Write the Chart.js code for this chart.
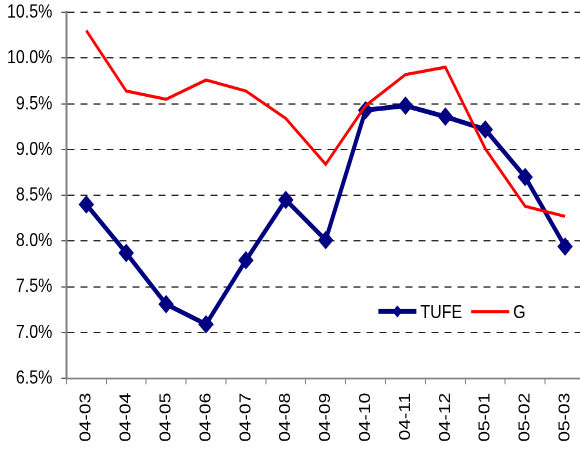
<!DOCTYPE html>
<html>
<head>
<meta charset="utf-8">
<script src="https://cdn.jsdelivr.net/npm/chart.js@4/dist/chart.umd.min.js"></script>
<style>
  html, body { margin: 0; padding: 0; background: #fff; overflow: hidden; width: 580px; height: 455px; }
  #wrap { position: absolute; left: 0; top: -10px; transform: scale(1, 1.2); transform-origin: 0 0; }
</style>
</head>
<body>
<div id="wrap"><canvas id="myChart" width="593" height="387"></canvas></div>
<script>
const months = ["04-03", "04-04", "04-05", "04-06", "04-07", "04-08", "04-09",
  "04-10", "04-11", "04-12", "05-01", "05-02", "05-03"];
const tufe = [8.40, 7.87, 7.31, 7.09, 7.79, 8.45, 8.01, 9.43, 9.48, 9.36, 9.22, 8.70, 7.94];
const g = [10.30, 9.64, 9.55, 9.76, 9.64, 9.34, 8.84, 9.48, 9.82, 9.90, 9.01, 8.38, 8.27];
const yMin = 6.5;
const yMax = 10.5;
const yStep = 0.5;

const font = { family: "'Liberation Sans', Arial, sans-serif", size: 16 };

// legend drawn inside the plot, like the original
const insideLegend = {
  id: "insideLegend",
  afterDraw(chart) {
    const c = chart.ctx;
    const y = chart.scales.y.getPixelForValue(7.23);
    let x = chart.chartArea.left + 312;
    c.save();
    c.font = "16px 'Liberation Sans', Arial, sans-serif";
    c.textBaseline = "middle";
    chart.data.datasets.forEach((ds) => {
      c.strokeStyle = ds.borderColor;
      c.lineWidth = ds.borderWidth;
      c.beginPath();
      c.moveTo(x, y);
      c.lineTo(x + 38, y);
      c.stroke();
      if (ds.pointRadius > 0) {
        const r = 5;
        c.fillStyle = ds.borderColor;
        c.beginPath();
        c.moveTo(x + 19 - r, y);
        c.lineTo(x + 19, y - r);
        c.lineTo(x + 19 + r, y);
        c.lineTo(x + 19, y + r);
        c.closePath();
        c.fill();
      }
      c.fillStyle = "#000";
      c.fillText(ds.label, x + 42, y + 1);
      x += 42 + c.measureText(ds.label).width + 9;
    });
    c.restore();
  },
};

const ctx = document.getElementById("myChart");
let chart = new Chart(ctx, {
  type: "line",
  data: {
    labels: months,
    datasets: [
      {
        label: "TUFE",
        data: tufe,
        borderColor: "#000080",
        backgroundColor: "#000080",
        borderWidth: 4,
        pointStyle: "rectRot",
        pointRadius: 7,
        pointBorderWidth: 1,
        tension: 0,
        order: 1,
      },
      {
        label: "G",
        data: g,
        borderColor: "#ff0000",
        backgroundColor: "#ff0000",
        borderWidth: 2.6,
        pointRadius: 0,
        tension: 0,
        order: 0,
      },
    ],
  },
  options: {
    responsive: false,
    animation: false,
    devicePixelRatio: 2,
    layout: { padding: { left: -2, top: 0, right: 0, bottom: 3.5 } },
    plugins: {
      legend: { display: false },
      tooltip: { enabled: false },
    },
    scales: {
      x: {
        offset: true,
        grid: {
          offset: true,
          drawOnChartArea: false,
          drawTicks: true,
          tickLength: 5,
          color: "#808080",
        },
        border: { color: "#808080", width: 1.5 },
        ticks: {
          minRotation: 90,
          maxRotation: 90,
          padding: 7,
          color: "#000",
          font: font,
        },
      },
      y: {
        min: yMin,
        max: yMax,
        grid: {
          color: "#222",
          tickColor: "#555",
          tickLength: 5,
          lineWidth: 1,
        },
        border: { color: "#808080", width: 2, dash: [7, 6] },
        ticks: {
          stepSize: yStep,
          padding: 9,
          color: "#000",
          font: font,
          callback: (v) => v.toFixed(1) + "%",
        },
      },
    },
  },
  plugins: [insideLegend],
});
</script>
</body>
</html>
